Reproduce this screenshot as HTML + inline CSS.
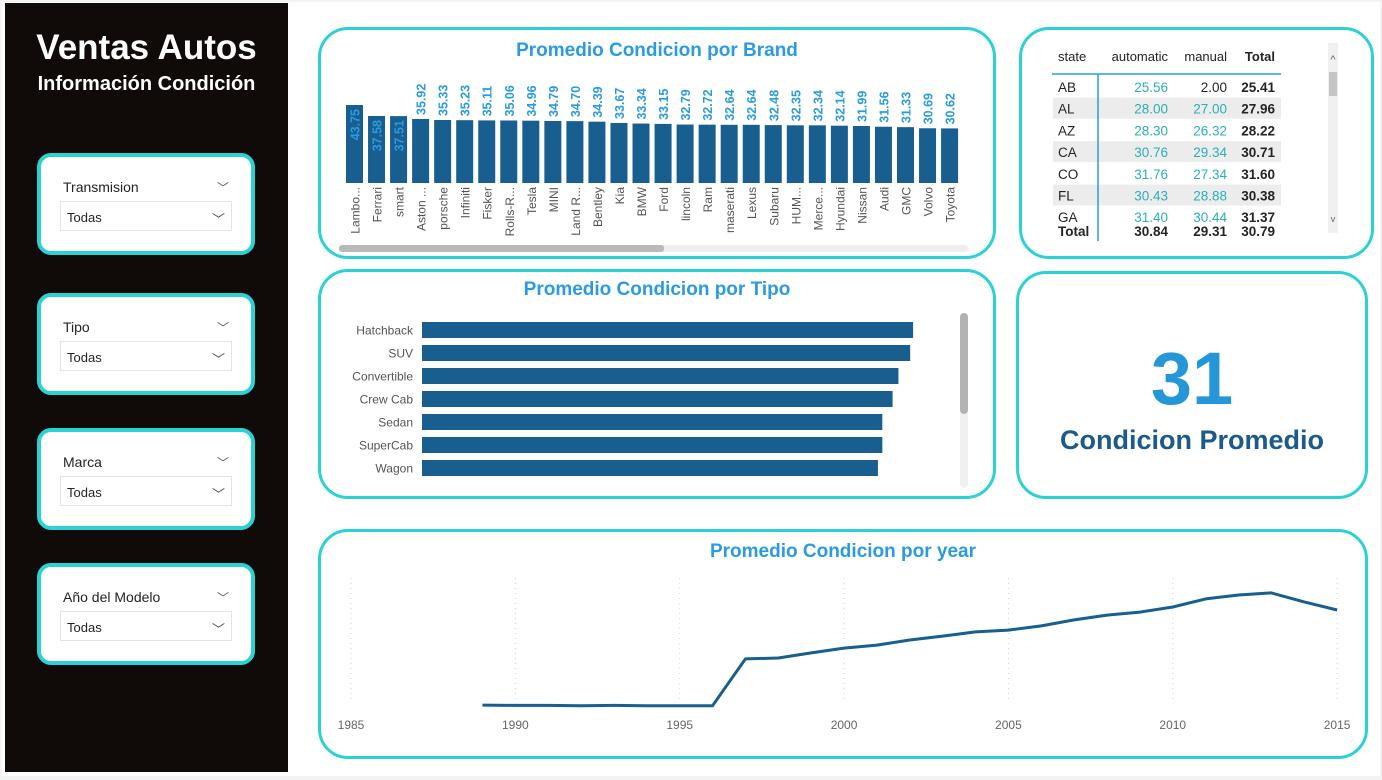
<!DOCTYPE html>
<html><head><meta charset="utf-8">
<style>
*{box-sizing:border-box;margin:0;padding:0}
body{width:1382px;height:780px;background:#f3f3f3;font-family:"Liberation Sans",sans-serif;position:relative;overflow:hidden}
.page{position:absolute;left:2px;top:2px;width:1378px;height:774px;background:#fff}
.side{position:absolute;left:5px;top:3px;width:283px;height:769px;background:#100a08}
.panel{position:absolute;background:#fff;border:3px solid #2bd2d4;border-radius:30px}
.slicer{position:absolute;left:37px;width:218px;height:102px;background:#fff;border:4px solid #2bd2d4;border-radius:14px}
.slicer .lbl{position:absolute;left:22px;top:22px;font-size:14px;color:#252423}
.slicer .chev{position:absolute;right:22px;top:22px;font-size:12px;color:#555}
.slicer .box{position:absolute;left:19px;top:44px;width:172px;height:30px;border:1px solid #e4e4e4}
.slicer .box span{position:absolute;left:6px;top:8px;font-size:13px;color:#252423}
.slicer .box i{position:absolute;right:6px;top:7px;font-style:normal;font-size:13px;color:#555}
.title{position:absolute;font-weight:bold;color:#2b9be0;font-size:19px;text-align:center;width:100%;font-family:"Liberation Sans Narrow","Liberation Sans",sans-serif}
svg{position:absolute;left:0;top:0}
</style></head><body>
<div class="page"></div>
<div class="side">
  <div style="position:absolute;left:0;width:283px;top:25px;text-align:center;color:#fff;font-weight:bold;font-size:35px">Ventas Autos</div>
  <div style="position:absolute;left:0;width:283px;top:70px;text-align:center;color:#fff;font-weight:bold;font-size:20px">Información Condición</div>
</div>
<div class="slicer" style="top:153px"><div class="lbl">Transmision</div><div class="chev">﹀</div><div class="box"><span>Todas</span><i>﹀</i></div></div>
<div class="slicer" style="top:293px"><div class="lbl">Tipo</div><div class="chev">﹀</div><div class="box"><span>Todas</span><i>﹀</i></div></div>
<div class="slicer" style="top:428px"><div class="lbl">Marca</div><div class="chev">﹀</div><div class="box"><span>Todas</span><i>﹀</i></div></div>
<div class="slicer" style="top:563px"><div class="lbl">Año del Modelo</div><div class="chev">﹀</div><div class="box"><span>Todas</span><i>﹀</i></div></div>

<div class="panel" style="left:318px;top:27px;width:678px;height:232px">
  <div class="title" style="top:10px">Promedio Condicion por Brand</div>
</div>
<div class="panel" style="left:1019px;top:27px;width:355px;height:232px"></div>
<div class="panel" style="left:318px;top:269px;width:678px;height:230px">
  <div class="title" style="top:7px">Promedio Condicion por Tipo</div>
</div>
<div class="panel" style="left:1016px;top:271px;width:352px;height:228px">
  <div style="position:absolute;width:100%;text-align:center;top:62px;font-size:74px;font-weight:bold;color:#2596d8">31</div>
  <div style="position:absolute;width:100%;text-align:center;top:151px;font-size:27px;font-weight:bold;color:#1b5a8a">Condicion Promedio</div>
</div>
<div class="panel" style="left:318px;top:529px;width:1050px;height:230px">
  <div class="title" style="top:9px">Promedio Condicion por year</div>
</div>

<svg id="chart" width="1382" height="780"></svg>

<script>
const brandNames=["Lambo...","Ferrari","smart","Aston ...","porsche","Infiniti","Fisker","Rolls-R...","Tesla","MINI","Land R...","Bentley","Kia","BMW","Ford","lincoln","Ram","maserati","Lexus","Subaru","HUM...","Merce...","Hyundai","Nissan","Audi","GMC","Volvo","Toyota"];
const brandValues=[43.75,37.58,37.51,35.92,35.33,35.23,35.11,35.06,34.96,34.79,34.70,34.39,33.67,33.34,33.15,32.79,32.72,32.64,32.64,32.48,32.35,32.34,32.14,31.99,31.56,31.33,30.69,30.62];
const tipoNames=["Hatchback","SUV","Convertible","Crew Cab","Sedan","SuperCab","Wagon"];
const tipoValues=[33.5,33.3,32.5,32.1,31.4,31.4,31.1];
const years=[1989,1990,1991,1992,1993,1994,1995,1996,1997,1998,1999,2000,2001,2002,2003,2004,2005,2006,2007,2008,2009,2010,2011,2012,2013,2014,2015];
const yearValues=[10.3,10.2,10.2,10.1,10.2,10.1,10.1,10.1,25.7,26.0,27.7,29.3,30.3,32.0,33.3,34.7,35.3,36.7,38.7,40.3,41.3,43.0,45.7,47.0,47.7,44.7,42.0];
const yearTicks=[1985,1990,1995,2000,2005,2010,2015];
const tableCols=["state","automatic","manual","Total"];
const tableStates=["AB","AL","AZ","CA","CO","FL","GA"];
const tableAuto=["25.56","28.00","28.30","30.76","31.76","30.43","31.40"];
const tableManual=["2.00","27.00","26.32","29.34","27.34","28.88","30.44"];
const tableTotal=["25.41","27.96","28.22","30.71","31.60","30.38","31.37"];
const tableGrand=["Total","30.84","29.31","30.79"];

const NS="http://www.w3.org/2000/svg";
const svg=document.getElementById('chart');
function mk(tag,attrs,parent){const e=document.createElementNS(NS,tag);for(const k in attrs)e.setAttribute(k,attrs[k]);(parent||svg).appendChild(e);return e;}
function txt(s,attrs,parent){const e=mk('text',attrs,parent);e.textContent=s;return e;}

// Brand chart
const bx0=346,bpitch=22.04,bw=17,bBase=183,bk=1.783;
const bX=i=>bx0+i*bpitch, bY=v=>bBase-v*bk;
brandValues.forEach((v,i)=>{
  const r=mk('rect',{x:bX(i),y:bY(v),width:bw,height:bBase-bY(v),fill:'#185e8f'});
  
  
  const cx=bX(i)+bw/2+5;
  const inside=i<3;
  const ly=inside?bY(v)+4:bY(v)-4;
  const l=txt(v.toFixed(2),{x:cx,y:ly,transform:`rotate(-90 ${cx} ${ly})`,'text-anchor':inside?'end':'start','font-size':'12.5','font-weight':'bold',fill:'#2b9be0','font-family':'Liberation Sans Narrow, Liberation Sans, sans-serif'});
  
  
  const tx=bX(i)+bw/2+5, ty=187;
  const c=txt(brandNames[i],{x:tx,y:ty,transform:`rotate(-90 ${tx} ${ty})`,'text-anchor':'end','font-size':'12',fill:'#555'});
  
  
});
const sb=mk('rect',{x:339,y:245,width:629,height:7,rx:3,fill:'#eeeeee'});


mk('rect',{x:339,y:245,width:325,height:7,rx:3,fill:'#b9b9b9'});

// Tipo chart
const tx0=422,tk=14.66,ty0=322,tpitch=23,th=16;
tipoValues.forEach((v,i)=>{
  const r=mk('rect',{x:tx0,y:ty0+i*tpitch,width:v*tk,height:th,fill:'#185e8f'});
  
  
  const l=txt(tipoNames[i],{x:413,y:ty0+i*tpitch+12.5,'text-anchor':'end','font-size':'12',fill:'#555'});
  
  
});
const ts=mk('rect',{x:960,y:313,width:8,height:175,rx:4,fill:'#f0f0f0'});


mk('rect',{x:960,y:313,width:8,height:101,rx:4,fill:'#b3b3b3'});

// Year chart
const yx=yr=>351+(yr-1985)*32.87, yy=v=>706-(v-10)*3;
yearTicks.forEach(t=>{
  const g=mk('line',{x1:yx(t),x2:yx(t),y1:578,y2:703,stroke:'#d0d0d0','stroke-dasharray':'1 4','stroke-width':1});
  
  
  const l=txt(String(t),{x:yx(t),y:729,'text-anchor':'middle','font-size':'12',fill:'#666'});
  
  
});
const pts=years.map((y,i)=>yx(y)+','+yy(yearValues[i])).join(' ');
const pl=mk('polyline',{points:pts,fill:'none',stroke:'#185e8f','stroke-width':3,'stroke-linejoin':'round'});



// Table
const colR=[1058,1168,1227,1275];
tableCols.forEach((c,j)=>{
  const t=txt(c,{x:colR[j],y:61,'text-anchor':j==0?'start':'end','font-size':'13','font-weight':j==3?'bold':'normal',fill:'#252423'});
  
  
});
mk('line',{x1:1052,x2:1281,y1:74,y2:74,stroke:'#2b9be0','stroke-width':1.5});
tableStates.forEach((s,i)=>{
  const y=76+i*21.7;
  if(i%2==1){mk('rect',{x:1053,y:y,width:228,height:21,fill:'#ececec'});}
  const ty=y+16;
  const col=['#252423','#2ab0b8','#2ab0b8','#252423'];
  const vals=[s,tableAuto[i],tableManual[i],tableTotal[i]];
  vals.forEach((v,j)=>{
    let c=col[j]; if(i==0&&j==2)c='#252423';
    const t=txt(v,{x:colR[j],y:ty,'text-anchor':j==0?'start':'end','font-size':'13.5','font-weight':j==3?'bold':'normal',fill:c});
    
    
  });
});
mk('rect',{x:1052,y:223,width:230,height:14,fill:'#fff'});
tableGrand.forEach((v,j)=>{
  const t=txt(v,{x:colR[j],y:236,'text-anchor':j==0?'start':'end','font-size':'13.5','font-weight':'bold',fill:'#252423'});
  
  
});
mk('line',{x1:1098,x2:1098,y1:74,y2:241,stroke:'#2b9be0','stroke-width':1.5});
const tsb=mk('rect',{x:1328,y:43,width:10,height:190,fill:'#f0f0f0'});


mk('rect',{x:1329,y:72,width:8,height:24,fill:'#c4c4c4'});
txt('^',{x:1333,y:63,'text-anchor':'middle','font-size':'11',fill:'#666'});
txt('v',{x:1333,y:222,'text-anchor':'middle','font-size':'9',fill:'#666'});
</script>
</body></html>
